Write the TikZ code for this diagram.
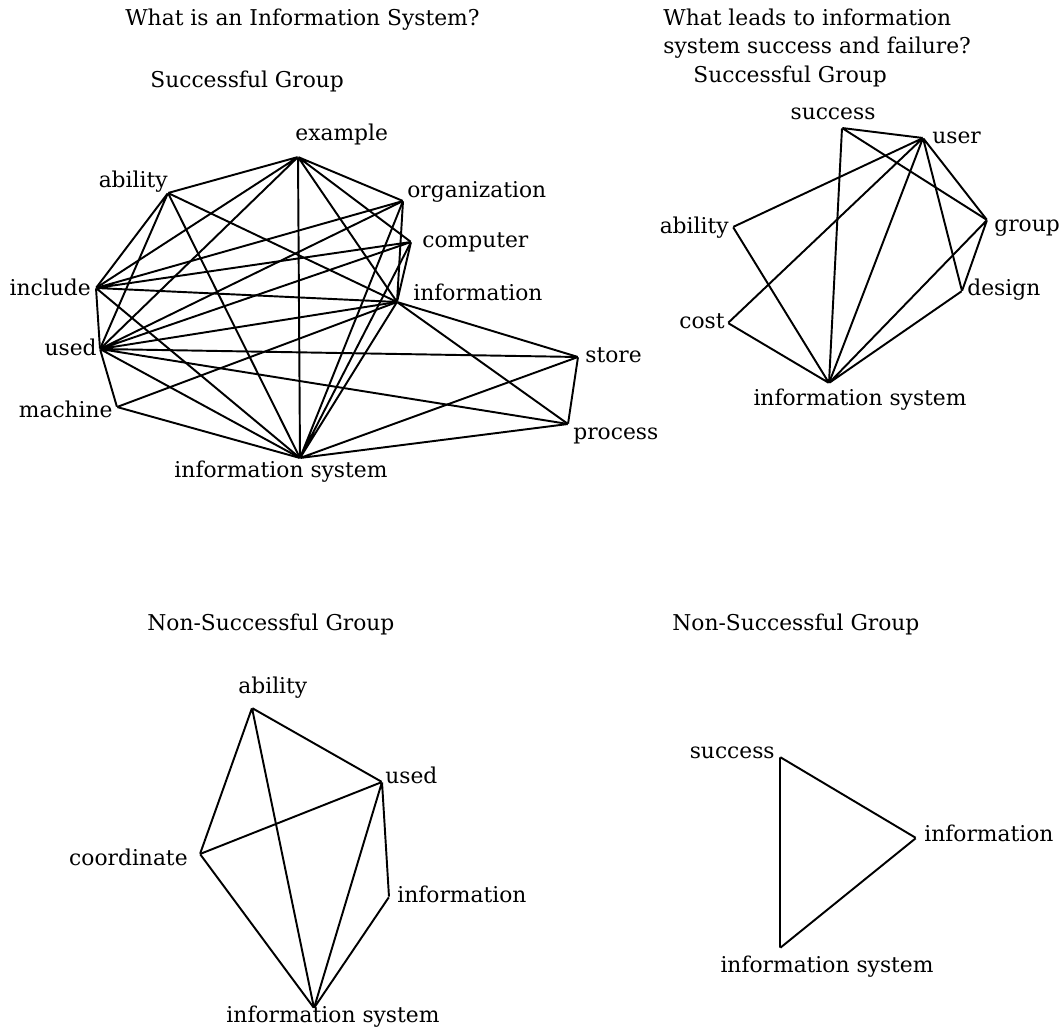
\documentclass[tikz,border=0pt]{standalone}
\usepackage{fontspec}
\setmainfont{DejaVu Serif}
\begin{document}
\begin{tikzpicture}[
        x=0.02cm, y=-0.02cm,
        every node/.style={font=\fontsize{12.4}{15.6}\selectfont},
        vtx/.style={inner sep=0pt, minimum size=0pt},
        lbl/.style={inner sep=0pt, text height=1.5ex, text depth=0.25ex},
        link/.style={line width=1.1pt}
    ]
        \useasboundingbox (0,0) rectangle (1060,1030);

        % Titles
        \node [inner sep=0pt, anchor=west] (T1) at (125,20) {What is an Information System?};
        \node [inner sep=0pt, anchor=north west, align=left] (T2) at (663,9) {What leads to information\\system success and failure?};
        \node [lbl, anchor=west] (G1) at (150,82) {Successful Group};
        \node [lbl, anchor=west] (G2) at (693,77) {Successful Group};
        \node [lbl, anchor=west] (G3) at (147,625) {Non-Successful Group};
        \node [lbl, anchor=west] (G4) at (672,625) {Non-Successful Group};

        % Successful group, first question
        \node [vtx] (ex1) at (298,157) {};
        \node [vtx] (ab1) at (168,193) {};
        \node [vtx] (inc1) at (96,288) {};
        \node [vtx] (use1) at (100,349) {};
        \node [vtx] (mac1) at (117,407) {};
        \node [vtx] (is1) at (300,458) {};
        \node [vtx] (org1) at (403,201) {};
        \node [vtx] (com1) at (411,242) {};
        \node [vtx] (inf1) at (397,302) {};
        \node [vtx] (sto1) at (578,357) {};
        \node [vtx] (pro1) at (568,424) {};

        \node [lbl, anchor=west] (ex1t) at (295,135) {example};
        \node [lbl, anchor=east] (ab1t) at (168,182) {ability};
        \node [lbl, anchor=east] (inc1t) at (91,290) {include};
        \node [lbl, anchor=east] (use1t) at (97,350) {used};
        \node [lbl, anchor=east] (mac1t) at (113,412) {machine};
        \node [lbl] (is1t) at (281,472) {information system};
        \node [lbl, anchor=west] (org1t) at (407,192) {organization};
        \node [lbl, anchor=west] (com1t) at (422,242) {computer};
        \node [lbl, anchor=west] (inf1t) at (413,295) {information};
        \node [lbl, anchor=west] (sto1t) at (585,357) {store};
        \node [lbl, anchor=west] (pro1t) at (573,434) {process};

        \draw [link] (ex1) -- (ab1) (ex1) -- (inc1) (ex1) -- (use1) (ex1) -- (is1)
            (ex1) -- (org1) (ex1) -- (com1) (ex1) -- (inf1);
        \draw [link] (ab1) -- (inc1) (ab1) -- (use1) (ab1) -- (is1) (ab1) -- (inf1);
        \draw [link] (inc1) -- (org1) (inc1) -- (com1) (inc1) -- (inf1) (inc1) -- (use1) (inc1) -- (is1);
        \draw [link] (use1) -- (mac1) (use1) -- (org1) (use1) -- (com1) (use1) -- (inf1)
            (use1) -- (sto1) (use1) -- (pro1) (use1) -- (is1);
        \draw [link] (mac1) -- (inf1) (mac1) -- (is1);
        \draw [link] (is1) -- (org1) (is1) -- (com1) (is1) -- (inf1) (is1) -- (sto1) (is1) -- (pro1);
        \draw [link] (inf1) -- (org1) (inf1) -- (com1) (inf1) -- (sto1) (inf1) -- (pro1);
        \draw [link] (sto1) -- (pro1);

        % Successful group, second question
        \node [vtx] (suc2) at (842,128) {};
        \node [vtx] (usr2) at (923,138) {};
        \node [vtx] (ab2) at (733,227) {};
        \node [vtx] (grp2) at (987,220) {};
        \node [vtx] (des2) at (962,291) {};
        \node [vtx] (cst2) at (728,323) {};
        \node [vtx] (is2) at (829,383) {};

        \node [lbl] (suc2t) at (833,114) {success};
        \node [lbl, anchor=west] (usr2t) at (932,138) {user};
        \node [lbl, anchor=east] (ab2t) at (729,228) {ability};
        \node [lbl, anchor=west] (grp2t) at (994,226) {group};
        \node [lbl, anchor=west] (des2t) at (967,290) {design};
        \node [lbl, anchor=east] (cst2t) at (725,323) {cost};
        \node [lbl] (is2t) at (860,400) {information system};

        \draw [link] (suc2) -- (usr2) (suc2) -- (is2) (suc2) -- (grp2);
        \draw [link] (usr2) -- (ab2) (usr2) -- (cst2) (usr2) -- (is2) (usr2) -- (grp2) (usr2) -- (des2);
        \draw [link] (ab2) -- (is2) (cst2) -- (is2) (grp2) -- (is2) (grp2) -- (des2) (des2) -- (is2);

        % Non-successful group, first question
        \node [vtx] (ab3) at (252,708) {};
        \node [vtx] (use3) at (382,782) {};
        \node [vtx] (crd3) at (200,854) {};
        \node [vtx] (inf3) at (389,897) {};
        \node [vtx] (is3) at (314,1008) {};

        \node [lbl, anchor=west] (ab3t) at (238,688) {ability};
        \node [lbl, anchor=west] (use3t) at (385,778) {used};
        \node [lbl, anchor=east] (crd3t) at (188,860) {coordinate};
        \node [lbl, anchor=west] (inf3t) at (397,897) {information};
        \node [lbl] (is3t) at (333,1017) {information system};

        \draw [link] (ab3) -- (use3) (ab3) -- (crd3) (ab3) -- (is3);
        \draw [link] (use3) -- (crd3) (use3) -- (is3) (use3) -- (inf3);
        \draw [link] (crd3) -- (is3) (inf3) -- (is3);

        % Non-successful group, second question
        \node [vtx] (suc4) at (780,757) {};
        \node [vtx] (inf4) at (916,838) {};
        \node [vtx] (is4) at (780,948) {};

        \node [lbl, anchor=east] (suc4t) at (775,753) {success};
        \node [lbl, anchor=west] (inf4t) at (924,836) {information};
        \node [lbl] (is4t) at (827,967) {information system};

        \draw [link] (suc4) -- (inf4) (suc4) -- (is4) (inf4) -- (is4);
    \end{tikzpicture}
\end{document}
